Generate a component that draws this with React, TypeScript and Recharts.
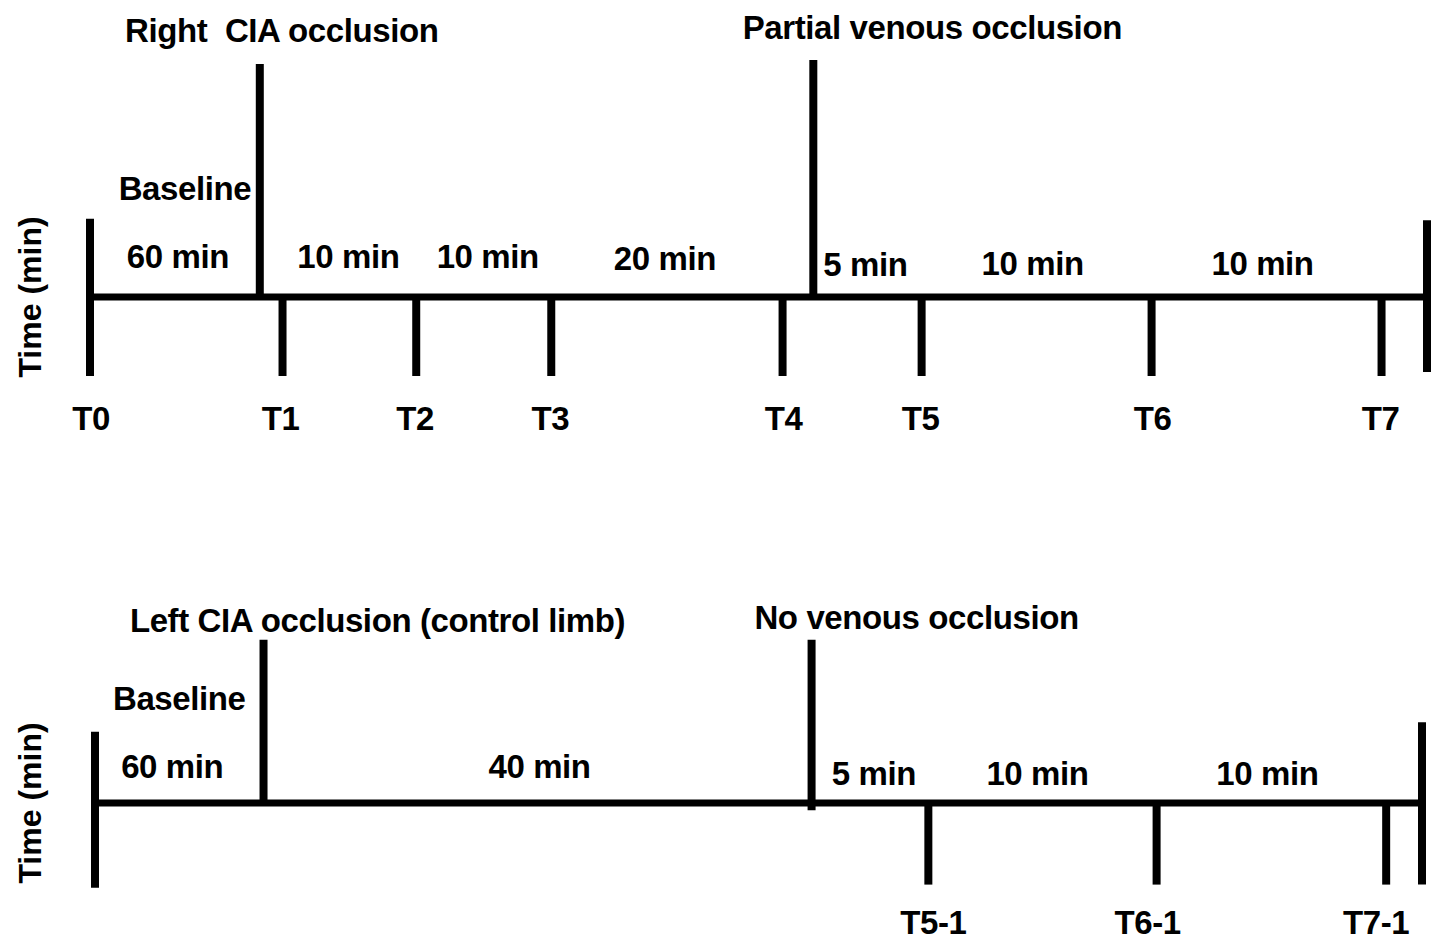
import React from "react";
import { ComposedChart, ReferenceLine, Scatter, XAxis, YAxis } from "recharts";

// positions are in timeline units: 0 = start bar, 100 = end bar (figure is not to scale)

// top panel: right limb, partial venous occlusion
const topTickLabels = ["T0", "T1", "T2", "T3", "T4", "T5", "T6", "T7"];
const topTickPos = [0, 14.4, 24.4, 34.5, 51.8, 62.2, 79.4, 96.6];
const topEventLabels = ["Right  CIA occlusion", "Partial venous occlusion"];
const topEventPos = [12.7, 54.1];
const topEventTop = [2.95, 3.0];
const topEventBottom = [0, 0];
const topIntervalLabels = ["60 min", "10 min", "10 min", "20 min", "5 min", "10 min", "10 min"];
const topIntervalFrom = [0, 14.4, 24.4, 34.5, 54.1, 62.2, 79.4];
const topIntervalTo = [12.7, 24.4, 34.5, 51.8, 62.2, 79.4, 96.6];
const topBoundTop = [0.99, 0.97];
const topBoundBottom = [-1, -0.95];

// bottom panel: left (control) limb, no venous occlusion
const bottomTickLabels = ["T5-1", "T6-1", "T7-1"];
const bottomTickPos = [62.8, 80.0, 97.3];
const bottomEventLabels = ["Left CIA occlusion (control limb)", "No venous occlusion"];
const bottomEventPos = [12.7, 54.0];
const bottomEventTop = [2.04, 2.04];
const bottomEventBottom = [0, -0.09];
const bottomIntervalLabels = ["60 min", "40 min", "5 min", "10 min", "10 min"];
const bottomIntervalFrom = [0, 12.7, 54.0, 62.8, 80.0];
const bottomIntervalTo = [12.7, 54.0, 62.8, 80.0, 97.3];
const bottomBoundTop = [0.89, 1.01];
const bottomBoundBottom = [-1.06, -1.02];

const phaseLabel = "Baseline";
const axisLabel = "Time (min)";

const FONT = "'Liberation Sans', Arial, Helvetica, sans-serif";

type TextPoint = { x: number; y: number; text: string; dx: number; dy: number };

const renderText = (props: any) => {
  const p = props.payload as TextPoint;
  return (
    <text
      x={props.cx + p.dx}
      y={props.cy + p.dy}
      textAnchor="middle"
      fontFamily={FONT}
      fontWeight="bold"
      fontSize={33}
      letterSpacing={-0.4}
      fill="#000"
      style={{ whiteSpace: "pre" }}
    >
      {p.text}
    </text>
  );
};

interface PanelProps {
  top: number;
  height: number;
  left: number;
  right: number;
  baseY: number;
  unit: number;
  domain: [number, number];
  tickLabels: string[];
  tickPos: number[];
  tickDepth: number;
  tickDrop: number;
  tickNudge: number[];
  eventLabels: string[];
  eventPos: number[];
  eventTop: number[];
  eventBottom: number[];
  eventNudge: [number, number][];
  intervalLabels: string[];
  intervalFrom: number[];
  intervalTo: number[];
  intervalNudge: [number, number][];
  phaseNudge: [number, number];
  boundTop: number[];
  boundBottom: number[];
}

function Panel(p: PanelProps) {
  const marginTop = p.baseY - p.domain[1] * p.unit;
  const plotH = (p.domain[1] - p.domain[0]) * p.unit;
  const marginBottom = p.height - marginTop - plotH;

  const texts: TextPoint[] = [];
  p.intervalLabels.forEach((t, i) => {
    texts.push({
      x: (p.intervalFrom[i] + p.intervalTo[i]) / 2,
      y: 0,
      text: t,
      dx: p.intervalNudge[i][0],
      dy: -p.intervalNudge[i][1],
    });
  });
  texts.push({
    x: (p.intervalFrom[0] + p.intervalTo[0]) / 2,
    y: 0,
    text: phaseLabel,
    dx: p.phaseNudge[0],
    dy: -p.phaseNudge[1],
  });
  p.tickLabels.forEach((t, i) => {
    texts.push({ x: p.tickPos[i], y: 0, text: t, dx: p.tickNudge[i], dy: p.tickDrop });
  });
  p.eventLabels.forEach((t, i) => {
    texts.push({
      x: p.eventPos[i],
      y: p.eventTop[i],
      text: t,
      dx: p.eventNudge[i][0],
      dy: -p.eventNudge[i][1],
    });
  });

  const frac = p.domain[1] / (p.domain[1] - p.domain[0]);

  return (
    <div style={{ position: "absolute", left: 0, top: p.top, width: 1434, height: p.height }}>
      <ComposedChart
        width={1434}
        height={p.height}
        margin={{ top: marginTop, right: p.right, bottom: marginBottom, left: 0 }}
      >
        <XAxis type="number" dataKey="x" domain={[0, 100]} hide />
        <YAxis
          type="number"
          dataKey="y"
          domain={p.domain}
          width={p.left}
          tick={false}
          tickLine={false}
          axisLine={false}
          label={{
            content: (lp: any) => {
              const vb = lp.viewBox;
              const cx = vb.x + 30;
              const cy = vb.y + vb.height * frac;
              return (
                <text
                  x={cx}
                  y={cy}
                  transform={`rotate(-90, ${cx}, ${cy})`}
                  textAnchor="middle"
                  dominantBaseline="central"
                  fontFamily={FONT}
                  fontWeight="bold"
                  fontSize={32}
                  fill="#000"
                >
                  {axisLabel}
                </text>
              );
            },
          }}
        />
        <ReferenceLine segment={[{ x: 0, y: 0 }, { x: 100, y: 0 }]} stroke="#000" strokeWidth={7} />
        {[0, 100].map((x, i) => (
          <ReferenceLine
            key={`b${i}`}
            segment={[{ x, y: p.boundBottom[i] }, { x, y: p.boundTop[i] }]}
            stroke="#000"
            strokeWidth={8}
          />
        ))}
        {p.tickPos.map((x, i) => (
          <ReferenceLine
            key={`t${i}`}
            segment={[{ x, y: p.tickDepth }, { x, y: 0 }]}
            stroke="#000"
            strokeWidth={8}
          />
        ))}
        {p.eventPos.map((x, i) => (
          <ReferenceLine
            key={`e${i}`}
            segment={[{ x, y: p.eventBottom[i] }, { x, y: p.eventTop[i] }]}
            stroke="#000"
            strokeWidth={8}
          />
        ))}
        <Scatter data={texts} shape={renderText} isAnimationActive={false} />
      </ComposedChart>
    </div>
  );
}

export default function App() {
  return (
    <div
      style={{
        position: "absolute",
        left: 0,
        top: 0,
        width: 1434,
        height: 942,
        background: "#fff",
        overflow: "hidden",
      }}
    >
      <Panel
        top={0}
        height={471}
        left={90}
        right={7}
        baseY={297}
        unit={79}
        domain={[-2, 3.5]}
        tickLabels={topTickLabels}
        tickPos={topTickPos}
        tickDepth={-1}
        tickDrop={133}
        tickNudge={[1, -2, -1, -1, 1, -1, 1, -1]}
        eventLabels={topEventLabels}
        eventPos={topEventPos}
        eventTop={topEventTop}
        eventBottom={topEventBottom}
        eventNudge={[
          [22, 22],
          [119, 21],
        ]}
        intervalLabels={topIntervalLabels}
        intervalFrom={topIntervalFrom}
        intervalTo={topIntervalTo}
        intervalNudge={[
          [3, 29],
          [-1, 29],
          [4, 29],
          [-2, 27],
          [-2, 21],
          [-4, 22],
          [-4, 22],
        ]}
        phaseNudge={[10, 97]}
        boundTop={topBoundTop}
        boundBottom={topBoundBottom}
      />
      <Panel
        top={471}
        height={471}
        left={95}
        right={12}
        baseY={332}
        unit={80}
        domain={[-1.5, 3]}
        tickLabels={bottomTickLabels}
        tickPos={bottomTickPos}
        tickDepth={-1.02}
        tickDrop={131}
        tickNudge={[5, -9, -10]}
        eventLabels={bottomEventLabels}
        eventPos={bottomEventPos}
        eventTop={bottomEventTop}
        eventBottom={bottomEventBottom}
        eventNudge={[
          [114, 8],
          [105, 11],
        ]}
        intervalLabels={bottomIntervalLabels}
        intervalFrom={bottomIntervalFrom}
        intervalTo={bottomIntervalTo}
        intervalNudge={[
          [-7, 25],
          [2, 25],
          [4, 18],
          [-5, 18],
          [-4, 18],
        ]}
        phaseNudge={[0, 93]}
        boundTop={bottomBoundTop}
        boundBottom={bottomBoundBottom}
      />
    </div>
  );
}
